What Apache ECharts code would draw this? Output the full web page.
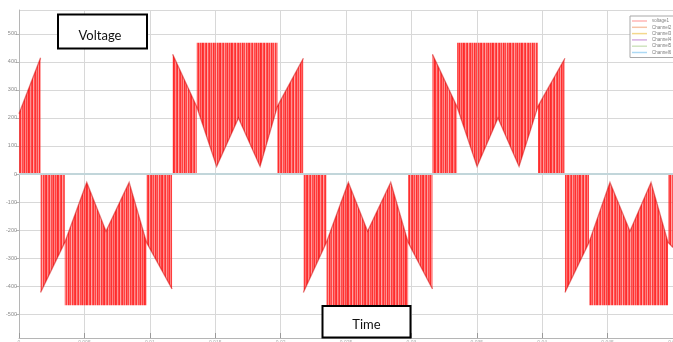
<!DOCTYPE html>
<html>
<head>
<meta charset="utf-8">
<script src="https://cdn.jsdelivr.net/npm/echarts@6/dist/echarts.min.js"></script>
<style>
  html, body { margin: 0; padding: 0; background: #fff; }
  #chart { width: 673px; height: 342px; }
</style>
</head>
<body>
<div id="chart"></div>
<script>
// Inverter line voltage over 0–50 ms (two and a half 50 Hz cycles)
const tMin = 0, tMax = 0.05, tStep = 0.005;
const vMin = -585, vMax = 585;
const dcRail = 468; // height the pulses reach on the DC link rail (V)

// Bands where the pulses switch between 0 V and the envelope: [time s, volts]
const zeroBands = [
  [[0, 215], [0.00165, 415]],
  [[0.00165, -423], [0.0035, -244]],
  [[0.00975, -244], [0.0117, -410]],
  [[0.01175, 427], [0.01359, 240]],
  [[0.01976, 242], [0.02174, 413]],
  [[0.02174, -423], [0.0235, -244]],
  [[0.02975, -244], [0.03161, -410]],
  [[0.03161, 427], [0.03349, 240]],
  [[0.03968, 242], [0.04174, 413]],
  [[0.04174, -423], [0.04358, -244]],
  [[0.04962, -244], [0.05, -262]]
];

// Bands where the pulses switch between the envelope and the DC rail
const railBands = [
  [[0.0035, -244], [0.00518, -30], [0.00665, -204], [0.00842, -30], [0.00975, -244]],
  [[0.01359, 240], [0.01511, 27], [0.01678, 200], [0.01843, 27], [0.01976, 242]],
  [[0.0235, -244], [0.02518, -30], [0.02665, -204], [0.02842, -30], [0.02975, -244]],
  [[0.03349, 240], [0.03502, 27], [0.03662, 200], [0.03823, 27], [0.03968, 242]],
  [[0.04358, -244], [0.04518, -30], [0.04671, -204], [0.04832, -30], [0.04962, -244]]
];

// The remaining scope channels sit at 0 V
const channelTime = [0, 0.05];
const channelVolts = [0, 0];
const channelNames = ['Channel2', 'Channel3', 'Channel4', 'Channel5', 'Channel6'];
const channelColors = ['#f7c3a6', '#f3d88c', '#d6aee2', '#cfe4bf', '#acd9f4'];
const legendColors = ['#ffb6b6'].concat(channelColors);

// Stripe texture standing in for the dense PWM pulses
const stripeAlpha = [0.9, 0.5, 0.82, 0.95, 0.42, 0.78, 0.92, 0.6, 0.86, 0.48, 0.95, 0.7,
                     0.84, 0.4, 0.9, 0.64, 0.88, 0.96, 0.52, 0.76, 0.92, 0.45, 0.82,
                     0.7, 0.94, 0.55, 0.88, 0.62, 0.97];
function makeStripes() {
  const c = document.createElement('canvas');
  c.width = stripeAlpha.length; c.height = 4;
  const g = c.getContext('2d');
  stripeAlpha.forEach((a, i) => {
    g.fillStyle = 'rgba(255,35,35,' + a + ')';
    g.fillRect(i, 0, 1, 4);
  });
  return c;
}
const stripes = { image: makeStripes(), repeat: 'repeat' };

const bands = zeroBands.map(b => ({ kind: 'zero', pts: b }))
  .concat(railBands.map(b => ({ kind: 'rail', pts: b })));

function renderBand(params, api) {
  const band = bands[params.dataIndex];
  const pts = band.pts;
  const first = pts[0], last = pts[pts.length - 1];
  let outline;
  if (band.kind === 'zero') {
    outline = [[first[0], 0]].concat(pts, [[last[0], 0]]);
  } else {
    const rail = Math.sign(pts[0][1]) * dcRail;
    outline = pts.concat([[last[0], rail], [first[0], rail]]);
  }
  return {
    type: 'group',
    children: [
      { type: 'polygon', shape: { points: outline.map(p => api.coord(p)) },
        style: { fill: stripes, stroke: null } },
      { type: 'polyline', shape: { points: pts.map(p => api.coord(p)) },
        style: { fill: null, stroke: 'rgba(205,0,0,0.5)', lineWidth: 1.3 } }
    ]
  };
}

const chart = echarts.init(document.getElementById('chart'), null, { renderer: 'canvas' });

const series = [{
  name: 'voltage1',
  type: 'custom',
  renderItem: renderBand,
  data: bands.map(b => [b.pts[0][0], b.pts[b.pts.length - 1][0]]),
  encode: { x: [0, 1] },
  z: 2,
  silent: true
}].concat(channelNames.map((name, i) => ({
  name,
  type: 'line',
  data: channelTime.map((t, k) => [t, channelVolts[k]]),
  symbol: 'none',
  lineStyle: { color: channelColors[i], width: 1.2 },
  itemStyle: { color: channelColors[i] },
  z: 3 + i,
  silent: true
})));

chart.setOption({
  animation: false,
  grid: { left: 19, right: 0, top: 10, bottom: 4, containLabel: false, outerBoundsMode: 'none' },
  xAxis: {
    type: 'value', min: tMin, max: tMax, interval: tStep,
    axisLine: { show: true, onZero: false, lineStyle: { color: '#b5b5b5' } },
    axisTick: { show: true, inside: true, length: 5, lineStyle: { color: '#9a9a9a' } },
    splitLine: { show: true, lineStyle: { color: '#d8d8d8' } },
    axisLabel: { fontSize: 5, color: '#aaa', margin: 2, fontFamily: 'Liberation Sans' }
  },
  yAxis: {
    type: 'value', min: vMin, max: vMax, splitNumber: 12,
    axisLine: { show: true, lineStyle: { color: '#b5b5b5' } },
    axisTick: { show: true, length: 3, lineStyle: { color: '#b5b5b5' } },
    splitLine: { show: true, lineStyle: { color: '#d8d8d8' } },
    axisLabel: { fontSize: 5.5, color: '#8a8a8a', margin: 2, showMinLabel: false, showMaxLabel: false,
                 fontFamily: 'Liberation Sans' }
  },
  legend: {
    data: ['voltage1'].concat(channelNames).map((n, i) => ({ name: n, itemStyle: { color: legendColors[i] } })),
    orient: 'vertical', left: 630, top: 16,
    icon: 'rect', itemWidth: 15, itemHeight: 1.5, itemGap: 0.3,
    selectedMode: false,
    textStyle: { fontSize: 4.5, lineHeight: 6, color: '#808080', fontFamily: 'Liberation Sans' },
    backgroundColor: '#fff', borderColor: '#a8a8a8', borderWidth: 1,
    padding: [2, 8, 2, 2]
  },
  graphic: [
    { type: 'rect', z: 100, shape: { x: 58, y: 14.5, width: 89, height: 34 },
      style: { fill: '#fff', stroke: '#000', lineWidth: 2 } },
    { type: 'text', z: 101, x: 100, y: 36,
      style: { text: 'Voltage', font: '13px Lato', fill: '#111', align: 'center', verticalAlign: 'middle' } },
    { type: 'rect', z: 100, shape: { x: 322.5, y: 306, width: 88, height: 31.5 },
      style: { fill: '#fff', stroke: '#000', lineWidth: 2 } },
    { type: 'text', z: 101, x: 366.5, y: 325,
      style: { text: 'Time', font: '13px Lato', fill: '#111', align: 'center', verticalAlign: 'middle' } }
  ],
  series
});
</script>
</body>
</html>
